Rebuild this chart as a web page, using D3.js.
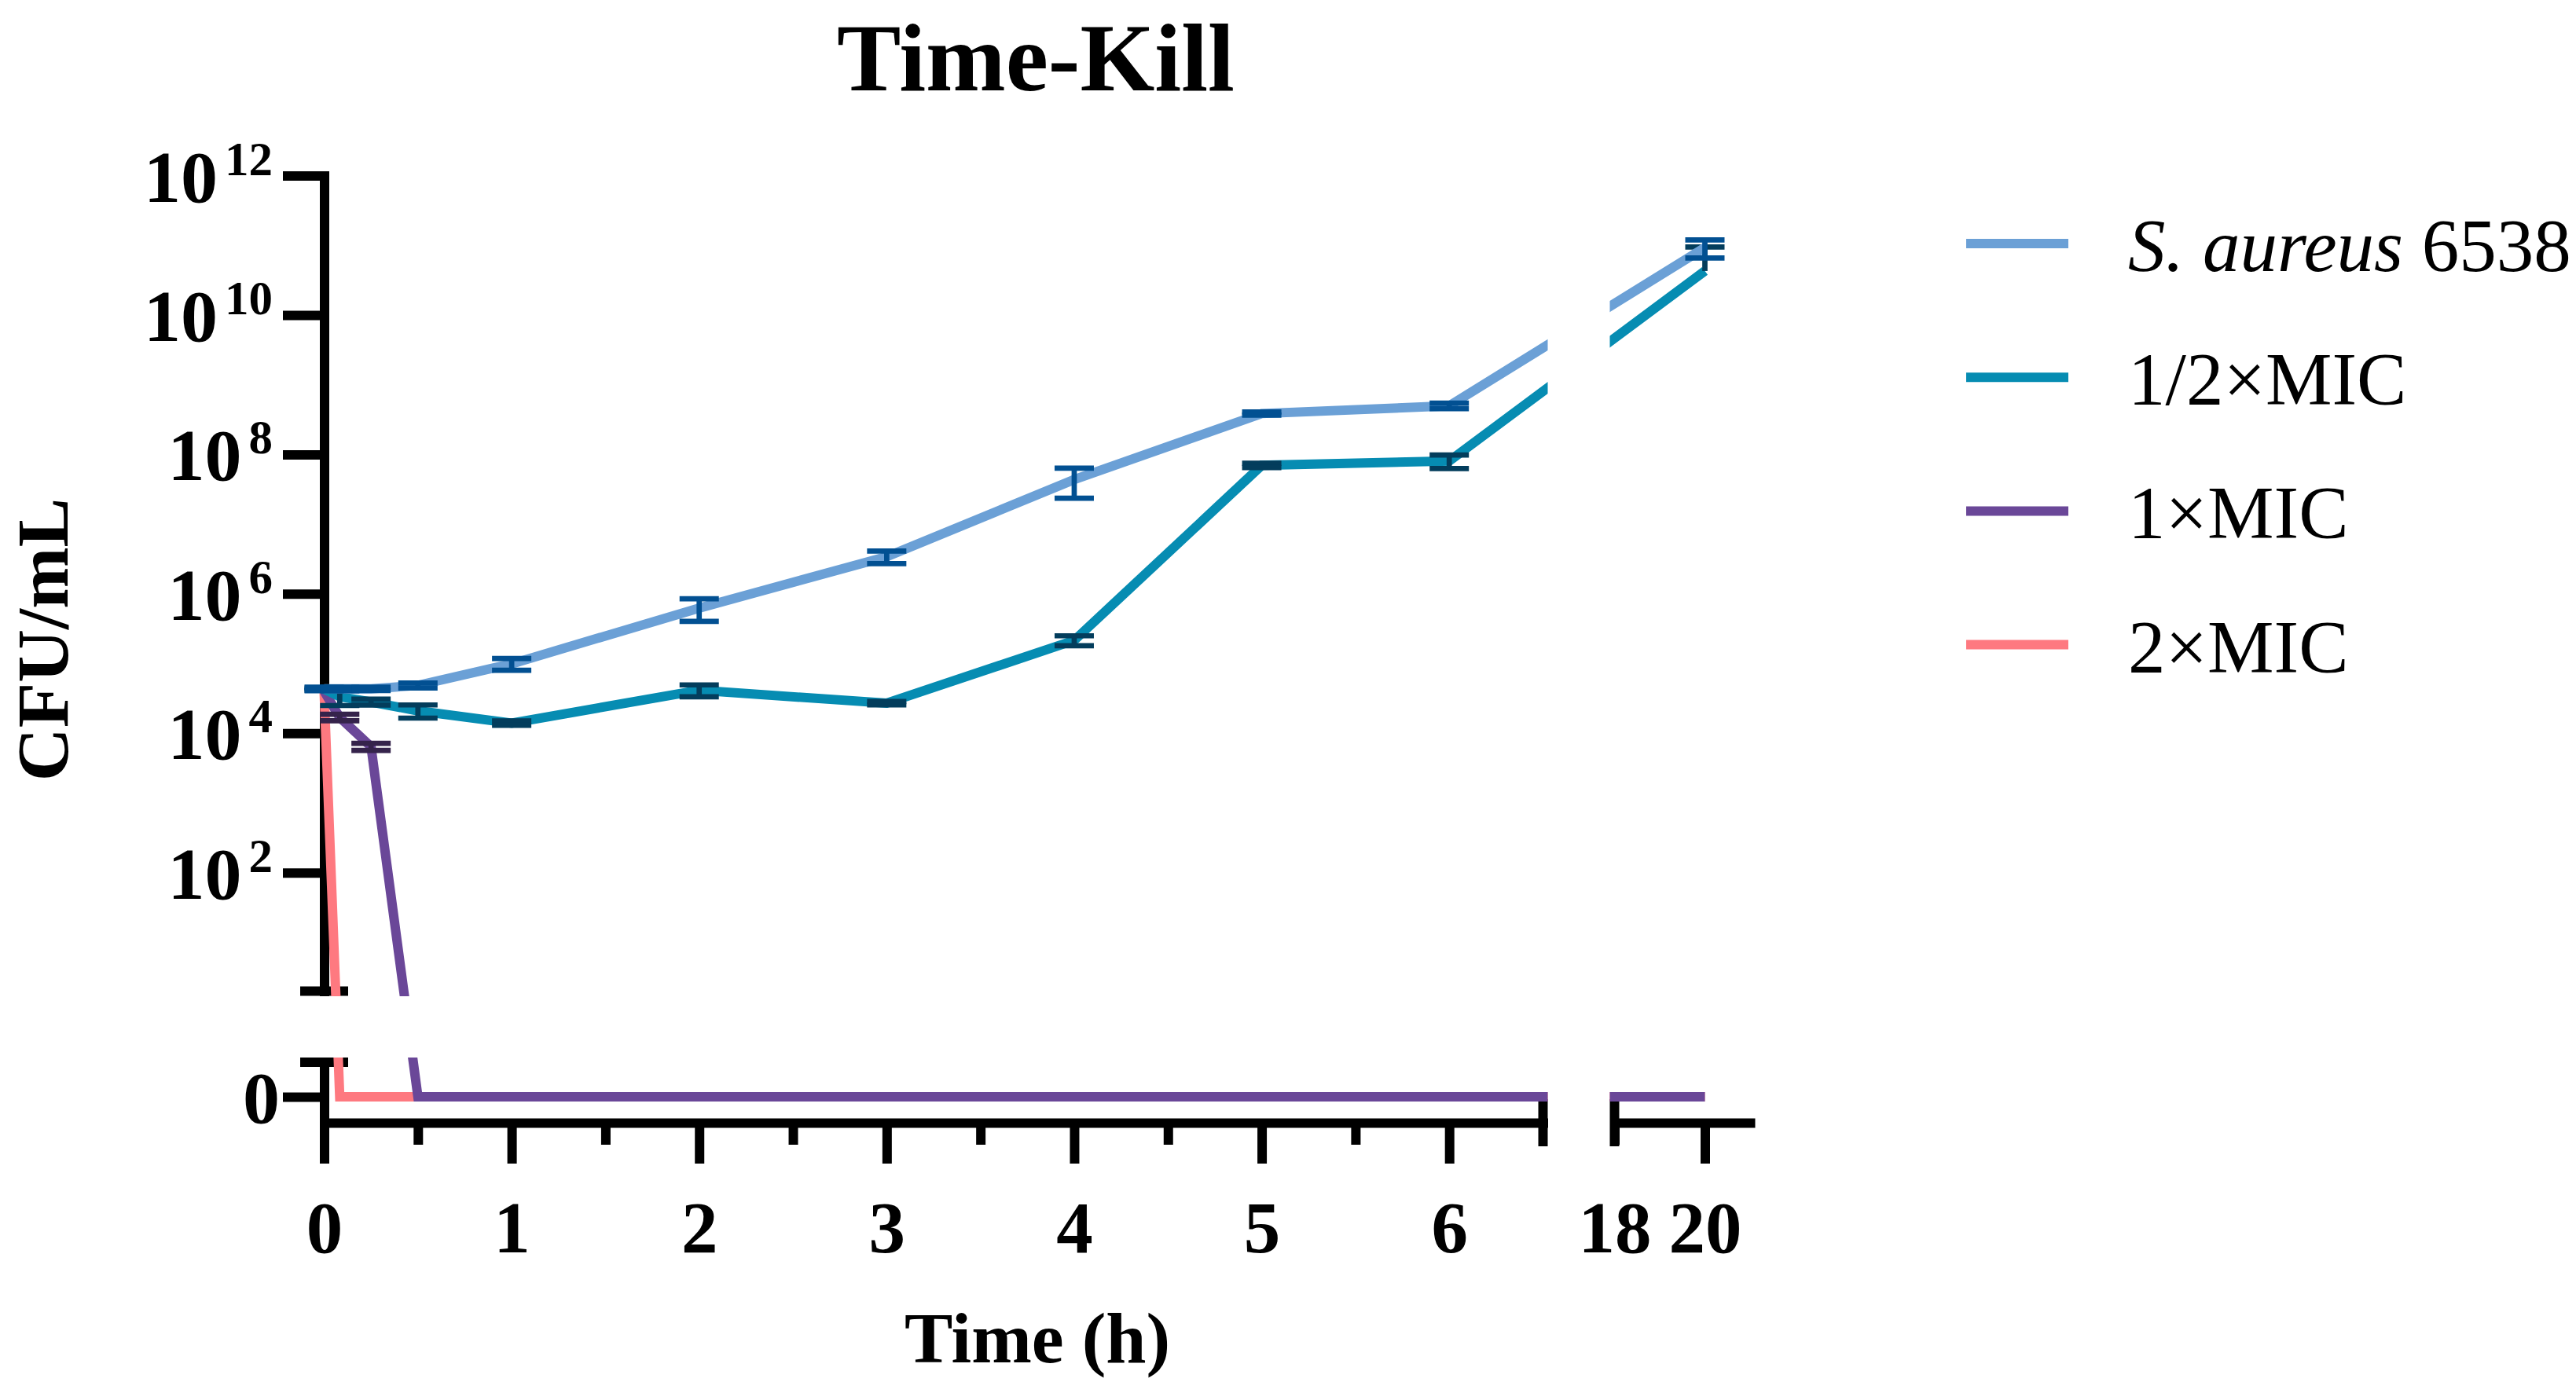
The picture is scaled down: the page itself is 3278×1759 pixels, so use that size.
<!DOCTYPE html>
<html>
<head>
<meta charset="utf-8">
<title>Time-Kill</title>
<script src="https://cdn.jsdelivr.net/npm/d3@7"></script>
<style>
  body { margin: 0; background: #fff; }
  text { font-family: "Liberation Serif", "Times New Roman", serif; fill: #000; }
</style>
</head>
<body>
<script>
// sampling times (h)
const times = [0, 0.083, 0.25, 0.5, 1, 2, 3, 4, 5, 6, 20];

const seriesNames = ['S. aureus 6538', '1/2×MIC', '1×MIC', '2×MIC'];

// CFU/mL, mean and SD (0 = below detection)
const controlMean = [4.33e4, 4.33e4, 4.35e4, 4.87e4, 9.92e4, 6.26e5, 3.41e6, 4.36e7, 3.86e8, 4.98e8, 9.28e10];
const controlSd   = [2.5e3, 2.5e3, 2.5e3, 4.0e3, 1.91e4, 2.22e5, 7.0e5, 2.01e7, 2.0e7, 4.5e7, 2.69e10];
const halfMicMean = [4.3e4, 3.34e4, 2.81e4, 2.10e4, 1.40e4, 4.14e4, 2.70e4, 2.15e5, 6.97e7, 8.05e7, 4.28e10];
const halfMicSd   = [1.5e3, 8.4e3, 2.7e3, 4.5e3, 1.0e3, 8.0e3, 1.5e3, 3.5e4, 5.0e6, 1.77e7, 5.2e10];
const oneMicMean  = [4.0e4, 1.69e4, 6.43e3, 0, 0, 0, 0, 0, 0, 0, 0];
const oneMicSd    = [0, 1.8e3, 7.5e2, 0, 0, 0, 0, 0, 0, 0, 0];
const twoMicMean  = [3.8e4, 0, 0, 0, 0, 0, 0, 0, 0, 0, 0];
const twoMicSd    = [0, 0, 0, 0, 0, 0, 0, 0, 0, 0, 0];

const yTickValues = [1e2, 1e4, 1e6, 1e8, 1e10, 1e12];
const xEarlyTicks = [0, 0.5, 1, 1.5, 2, 2.5, 3, 3.5, 4, 4.5, 5, 5.5, 6];
const xLateTicks = [18, 20];

const lineColors = ['#6ba0d6', '#068cb2', '#6a4798', '#fe7980'];
const barColors  = ['#025092', '#033d5c', '#35234b', '#b0454b'];

const series = seriesNames.map((name, i) => ({
  name: name,
  mean: [controlMean, halfMicMean, oneMicMean, twoMicMean][i],
  sd: [controlSd, halfMicSd, oneMicSd, twoMicSd][i],
  color: lineColors[i],
  barColor: barColors[i]
}));

const width = 3278;
const height = 1759;
const axisWidth = 12;
const lineWidth = 12;

const svg = d3.select('body')
  .append('svg')
  .attr('width', width)
  .attr('height', height);

// broken x axis: 0-6.5 h and 18-21 h
const xEarly = d3.scaleLinear().domain([0, 6.5]).range([412.5, 1963.5]);
const xLate = d3.scaleLinear().domain([18, 21]).range([2054.5, 2227]);
// broken y axis: log part and a small linear part for zero counts
const yLog = d3.scaleLog().domain([2, 1e12]).range([1261.5, 223.5]);
const yZero = d3.scaleLinear().domain([-0.75, 1]).range([1429, 1352]);

const xPos = (t) => t <= 6.5 ? xEarly(t) : xLate(t);
const yPos = (v) => v > 0 ? yLog(v) : yZero(0);

const styleAxis = (g) => {
  g.select('.domain')
    .attr('stroke', '#000')
    .attr('stroke-width', axisWidth)
    .attr('stroke-linecap', 'square');
  g.selectAll('.tick line')
    .attr('stroke', '#000')
    .attr('stroke-width', axisWidth);
  g.selectAll('.tick text')
    .style('font-family', '"Liberation Serif", serif')
    .style('font-weight', 'bold')
    .style('font-size', '93px');
};

// y axis, upper (log) segment
const yAxisLog = svg.append('g')
  .attr('transform', 'translate(' + xEarly(0) + ',0)')
  .call(d3.axisLeft(yLog).tickValues(yTickValues).tickSize(52.5).tickSizeOuter(0).tickFormat(''));
styleAxis(yAxisLog);

yTickValues.forEach((v) => {
  const label = svg.append('text')
    .attr('x', 347)
    .attr('y', yLog(v) + 33)
    .attr('text-anchor', 'end')
    .style('font-weight', 'bold');
  label.append('tspan').style('font-size', '94px').text('10');
  label.append('tspan')
    .attr('dx', 9)
    .attr('dy', -34)
    .style('font-size', '61px')
    .text(Math.round(Math.log10(v)));
});

// y axis, lower (zero) segment
const yAxisZero = svg.append('g')
  .attr('transform', 'translate(' + xEarly(0) + ',0)')
  .call(d3.axisLeft(yZero).tickValues([0]).tickSize(52.5).tickSizeOuter(0).tickFormat(''));
styleAxis(yAxisZero);

svg.append('text')
  .attr('x', 356)
  .attr('y', yZero(0) + 33)
  .attr('text-anchor', 'end')
  .style('font-weight', 'bold')
  .style('font-size', '94px')
  .text('0');

// x axis segments
const xAxisY = yZero.range()[0];
const xAxisEarly = svg.append('g')
  .attr('transform', 'translate(0,' + xAxisY + ')')
  .call(d3.axisBottom(xEarly).tickValues(xEarlyTicks).tickSizeOuter(0)
    .tickFormat((d) => Number.isInteger(d) ? d : ''));
const xAxisLate = svg.append('g')
  .attr('transform', 'translate(0,' + xAxisY + ')')
  .call(d3.axisBottom(xLate).tickValues(xLateTicks).tickSizeOuter(0).tickFormat((d) => d));

[xAxisEarly, xAxisLate].forEach((g) => {
  styleAxis(g);
  g.selectAll('.tick line')
    .attr('y2', (d) => (Number.isInteger(d) && d !== 18) ? 52 : 28);
  g.selectAll('.tick text')
    .attr('y', 165)
    .attr('dy', null);
});

// axis break marks
const breakMarks = [
  [382, yLog.range()[0], 443, yLog.range()[0]],
  [382, yZero.range()[1], 443, yZero.range()[1]],
  [xEarly.range()[1], xAxisY - 30, xEarly.range()[1], xAxisY + 30],
  [xLate.range()[0], xAxisY - 30, xLate.range()[0], xAxisY + 30]
];
svg.selectAll('line.break')
  .data(breakMarks)
  .enter()
  .append('line')
  .attr('class', 'break')
  .attr('x1', (d) => d[0])
  .attr('y1', (d) => d[1])
  .attr('x2', (d) => d[2])
  .attr('y2', (d) => d[3])
  .attr('stroke', '#000')
  .attr('stroke-width', axisWidth);

// clip the data lines out of the axis gaps
const gapLeft = xEarly.range()[1] + 6;
const gapRight = xLate.range()[0] - 6;
const gapTop = yLog.range()[0] + 6.5;
const gapBottom = yZero.range()[1] - 6;
const clip = svg.append('clipPath').attr('id', 'plot-clip');
[[0, 0, gapLeft, gapTop],
 [0, gapBottom, gapLeft, height],
 [gapRight, 0, width, gapTop],
 [gapRight, gapBottom, width, height]].forEach((r) => {
  clip.append('rect')
    .attr('x', r[0]).attr('y', r[1])
    .attr('width', r[2] - r[0]).attr('height', r[3] - r[1]);
});

const line = d3.line()
  .x((d) => xPos(d.t))
  .y((d) => yPos(d.v));

// first series ends up on top
series.slice().reverse().forEach((s) => {
  const points = times.map((t, i) => ({ t: t, v: s.mean[i], sd: s.sd[i] }));

  svg.append('path')
    .datum(points)
    .attr('clip-path', 'url(#plot-clip)')
    .attr('fill', 'none')
    .attr('stroke', s.color)
    .attr('stroke-width', lineWidth)
    .attr('stroke-linejoin', 'miter')
    .attr('d', line);

  const bars = svg.append('g')
    .attr('stroke', s.barColor)
    .attr('stroke-width', 6.7);

  points.filter((p) => p.v > 0 && p.sd > 0).forEach((p) => {
    const x = xPos(p.t);
    const hi = p.v + p.sd;
    const lo = p.v - p.sd;
    const yHi = yLog(hi);
    const yLo = lo > 0 ? yLog(lo) : yLog(p.v);
    bars.append('line')
      .attr('x1', x).attr('x2', x)
      .attr('y1', yLo).attr('y2', yHi);
    bars.append('line')
      .attr('x1', x - 25).attr('x2', x + 25)
      .attr('y1', yHi).attr('y2', yHi);
    if (lo > 0) {
      bars.append('line')
        .attr('x1', x - 25).attr('x2', x + 25)
        .attr('y1', yLo).attr('y2', yLo);
    }
  });
});

// titles
svg.append('text')
  .attr('x', 1318)
  .attr('y', 115)
  .attr('text-anchor', 'middle')
  .style('font-weight', 'bold')
  .style('font-size', '122px')
  .text('Time-Kill');

svg.append('text')
  .attr('x', 1320)
  .attr('y', 1734)
  .attr('text-anchor', 'middle')
  .style('font-weight', 'bold')
  .style('font-size', '92px')
  .text('Time (h)');

svg.append('text')
  .attr('transform', 'translate(86,814) rotate(-90)')
  .attr('text-anchor', 'middle')
  .style('font-weight', 'bold')
  .style('font-size', '94px')
  .text('CFU/mL');

// legend
const legend = svg.append('g');
series.forEach((s, i) => {
  const cy = 310 + i * 170.2;
  legend.append('line')
    .attr('x1', 2502).attr('x2', 2632)
    .attr('y1', cy).attr('y2', cy)
    .attr('stroke', s.color)
    .attr('stroke-width', lineWidth);
  const label = legend.append('text')
    .attr('x', 2708)
    .attr('y', cy + 35)
    .style('font-size', '95px');
  if (i === 0) {
    label.append('tspan').style('font-style', 'italic').text('S. aureus');
    label.append('tspan').text(' 6538');
  } else {
    label.text(s.name);
  }
});
</script>
</body>
</html>
